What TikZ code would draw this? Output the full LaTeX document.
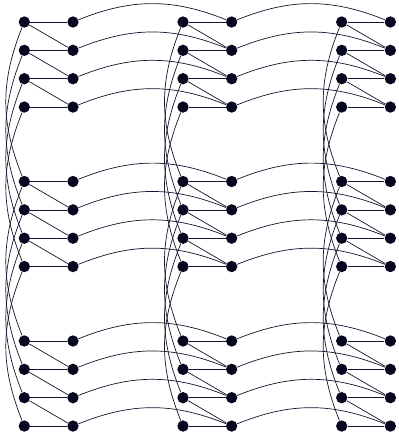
\documentclass[tikz,border=0pt]{standalone}
\usepackage{tikz}
\usepackage{xcolor}
\usetikzlibrary{arrows.meta}
\usetikzlibrary{positioning}

\definecolor{colorOne}{HTML}{06061E}
\definecolor{colorTwo}{HTML}{14142E}
\def\colorOne{colorOne}
\def\colorTwo{colorTwo}

\tikzset{
    sommet/.style = {circle , fill=\colorOne , draw = none , inner sep=0pt , minimum size=0.34cm},
    arete/.style = {line width=0.6pt , color=\colorTwo},
}

\begin{document}
\begin{tikzpicture}[x=0.03cm , y=-0.03cm , node distance=1.46cm , on grid]

    \useasboundingbox (0,0) rectangle (399,439);

    % Sommets : colonne c , groupe g , ligne i
    \foreach \c in {0,1,2} {
        \foreach \g in {0,1,2} {
            \foreach \i in {1,...,4} {
                \node[sommet] (L-\c-\g-\i) at ({24.3+158.7*\c} , {22+159.5*\g+28.35*(\i-1)}) {};
                \node[sommet , right = of L-\c-\g-\i] (R-\c-\g-\i) {};
            }
        }
    }

    % Aretes horizontales et diagonales
    \foreach \c in {0,1,2} {
        \foreach \g in {0,1,2} {
            \foreach \i in {1,...,4} {
                \draw[arete] (L-\c-\g-\i) -- (R-\c-\g-\i);
            }
            \foreach \i [count=\j from 2] in {1,2,3} {
                \draw[arete] (L-\c-\g-\i) -- (R-\c-\g-\j);
            }
        }
    }

    % Arcs entre colonnes
    \foreach \c/\d in {0/1,1/2} {
        \foreach \g in {0,1,2} {
            \foreach \i in {1,...,4} {
                \draw[arete] (R-\c-\g-\i) to[bend left=22] (R-\d-\g-\i);
            }
        }
    }

    % Arcs entre groupes
    \foreach \c in {0,1,2} {
        \foreach \g/\h in {0/1,1/2} {
            \foreach \i in {1,...,4} {
                \draw[arete] (L-\c-\g-\i) to[bend right=22] (L-\c-\h-\i);
            }
        }
    }

\end{tikzpicture}
\end{document}
